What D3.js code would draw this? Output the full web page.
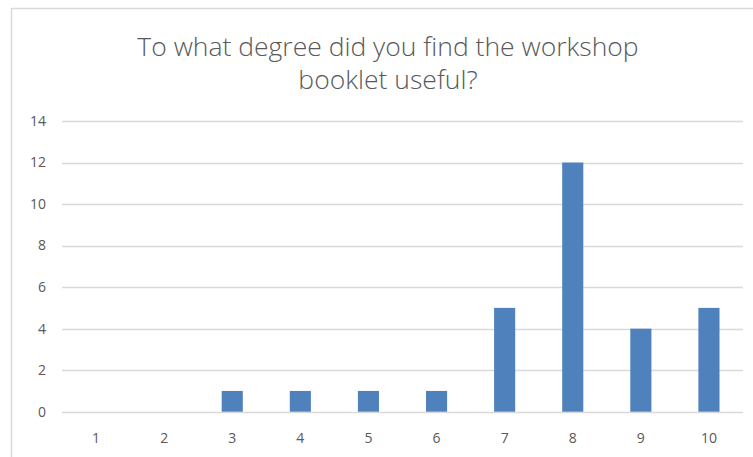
<!DOCTYPE html>
<html>
<head>
<meta charset="utf-8">
<script src="https://cdn.jsdelivr.net/npm/d3@7"></script>
<style>
  body { margin: 0; background: #fff; }
  text { font-family: "Open Sans", "Noto Sans", sans-serif; fill: #595959; }
</style>
</head>
<body>
<svg width="753" height="457"></svg>
<script>
const width = 753;
const height = 457;

const categories = ["1", "2", "3", "4", "5", "6", "7", "8", "9", "10"];
const counts = [0, 0, 1, 1, 1, 1, 5, 12, 4, 5];
const yTicks = [0, 2, 4, 6, 8, 10, 12, 14];
const titleLines = ["To what degree did you find the workshop", "booklet useful?"];

const margin = { top: 121, right: 10, bottom: 45, left: 62 };

const svg = d3.select("svg");

// outer chart border
svg.append("rect")
  .attr("x", 11.5)
  .attr("y", 8.5)
  .attr("width", 760)
  .attr("height", 470)
  .attr("fill", "none")
  .attr("stroke", "#d9d9d9")
  .attr("stroke-width", 1.5);

const x = d3.scaleBand()
  .domain(categories)
  .range([margin.left, width - margin.right])
  .paddingInner(0.69)
  .paddingOuter(0.345);

const y = d3.scaleLinear()
  .domain([0, 14])
  .range([height - margin.bottom - 0.3, margin.top]);

// gridlines
svg.append("g")
  .selectAll("line")
  .data(yTicks)
  .join("line")
  .attr("x1", margin.left)
  .attr("x2", width - margin.right)
  .attr("y1", d => Math.round(y(d)) + 0.5)
  .attr("y2", d => Math.round(y(d)) + 0.5)
  .attr("stroke", "#d9d9d9")
  .attr("stroke-width", 1.3);

// y labels
svg.append("g")
  .selectAll("text")
  .data(yTicks)
  .join("text")
  .attr("x", 46)
  .attr("y", d => y(d))
  .attr("dy", "0.35em")
  .attr("text-anchor", "end")
  .attr("font-size", 14)
  .text(d => d);

// bars
svg.append("g")
  .selectAll("rect")
  .data(counts)
  .join("rect")
  .attr("x", (d, i) => x(categories[i]))
  .attr("y", d => y(d))
  .attr("width", x.bandwidth())
  .attr("height", d => y(0) - y(d))
  .attr("fill", "#4f81bd");

// x labels
svg.append("g")
  .selectAll("text")
  .data(categories)
  .join("text")
  .attr("x", d => x(d) + x.bandwidth() / 2)
  .attr("y", 443)
  .attr("text-anchor", "middle")
  .attr("font-size", 14)
  .text(d => d);

// title
svg.append("g")
  .selectAll("text")
  .data(titleLines)
  .join("text")
  .attr("x", 388)
  .attr("y", (d, i) => 56 + i * 33)
  .attr("text-anchor", "middle")
  .attr("font-size", 26.5)
  .attr("font-weight", 300)
  .text(d => d);
</script>
</body>
</html>
